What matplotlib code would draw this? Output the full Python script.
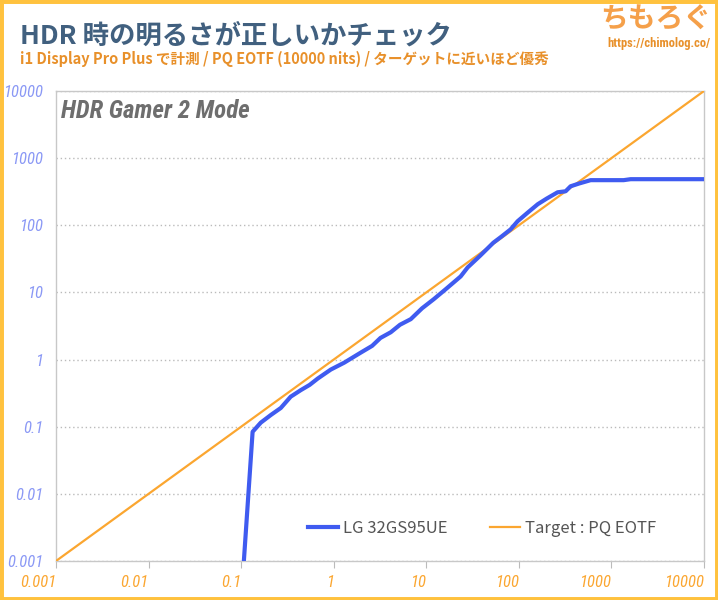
import matplotlib
matplotlib.use("Agg")
import matplotlib.pyplot as plt
from matplotlib import font_manager
from matplotlib.patches import Rectangle

plt.rcParams['font.family'] = ['Noto Sans CJK JP', 'DejaVu Sans']

# measured luminance (nits) against the PQ target
target_nits = [0.107, 0.133, 0.163, 0.21, 0.268, 0.343, 0.44, 0.55, 0.67, 0.93,
               1.3, 1.96, 2.6, 3.2, 4.13, 5.2, 6.8, 9.0, 12, 16, 23.5, 28, 38,
               53, 65, 81.5, 97, 125, 160, 200, 262, 320, 362, 450, 596, 1355,
               1612, 10000]
measured_nits = [0.001, 0.084, 0.115, 0.15, 0.19, 0.28, 0.35, 0.42, 0.52, 0.71,
                 0.9, 1.27, 1.6, 2.1, 2.55, 3.3, 4.0, 5.8, 7.9, 11, 17.3, 23.6, 35,
                 55, 68, 87, 115, 155, 206, 250, 310, 321, 381, 420, 470, 470,
                 486, 486]
pq_x = [0.001, 10000]
pq_y = [0.001, 10000]

decades = [0.001, 0.01, 0.1, 1, 10, 100, 1000, 10000]
decade_labels = ['0.001', '0.01', '0.1', '1', '10', '100', '1000', '10000']

blue = '#3F5BF0'
orange = '#FBA630'

installed = {f.name for f in font_manager.fontManager.ttflist}
narrow = [n for n in ['Roboto Condensed', 'Liberation Sans Narrow', 'Roboto']
          if n in installed][:1] + ['DejaVu Sans']

fig = plt.figure(figsize=(7.18, 6), dpi=100)
ax = fig.add_axes([56 / 718, 39 / 600, 648 / 718, 470 / 600])

ax.plot(pq_x, pq_y, color=orange, lw=1.6, label='Target : PQ EOTF', zorder=3)
ax.plot(target_nits, measured_nits, color=blue, lw=3, label='LG 32GS95UE', zorder=4)

ax.set_xscale('log')
ax.set_yscale('log')
ax.set_xlim(0.001, 10000)
ax.set_ylim(0.001, 10000)
ax.minorticks_off()

ax.set_xticks(decades)
ax.set_xticklabels(decade_labels, ha='right')
ax.set_yticks(decades)
ax.set_yticklabels(decade_labels)

for lab in ax.get_xticklabels():
    lab.set_color('#FBA630')
    lab.set_fontstyle('italic')
    lab.set_fontsize(12)
    lab.set_family(narrow)
for lab in ax.get_yticklabels():
    lab.set_color('#8A98F5')
    lab.set_fontstyle('italic')
    lab.set_fontsize(12)
    lab.set_family(narrow)

ax.tick_params(axis='x', direction='out', length=5, color='#BBBBBB', pad=5)
ax.tick_params(axis='y', length=0, pad=9)
for sp in ax.spines.values():
    sp.set_color('#C8C8C8')
    sp.set_linewidth(1)

ax.yaxis.grid(True, linestyle=(0, (1, 2)), color='#BBBBBB', lw=1)
ax.set_axisbelow(True)

ax.text(0.007, 0.982, 'HDR Gamer 2 Mode', transform=ax.transAxes,
        ha='left', va='top', fontsize=18, color='#6E6E6E',
        fontweight='bold', fontstyle='italic', family=narrow)

handles, labels = ax.get_legend_handles_labels()
ax.legend(handles[::-1], labels[::-1], loc='lower left', bbox_to_anchor=(0.365, 0.02),
          ncol=2, frameon=False, fontsize=12, handlelength=1.8, handletextpad=0.35,
          columnspacing=2.5, labelcolor='#555555')

fig.text(20 / 718, 1 - 36 / 600, 'HDR 時の明るさが正しいかチェック', fontsize=19,
         fontweight='bold', color='#41607F', ha='left', va='center')
fig.text(20 / 718, 1 - 59 / 600,
         'i1 Display Pro Plus で計測 / PQ EOTF (10000 nits) / ターゲットに近いほど優秀',
         fontsize=10.5, fontweight='bold', color='#E8902A', ha='left', va='center')
fig.text(711 / 718, 1 - 19 / 600, 'ちもろぐ', fontsize=20, fontweight='bold',
         color='#F5A04A', ha='right', va='center')
fig.text(711 / 718, 1 - 44 / 600, 'https://chimolog.co/', fontsize=9,
         fontweight='bold', color='#E8902A', ha='right', va='center', family=narrow)

fig.patches.append(Rectangle((0, 0), 1, 1, transform=fig.transFigure,
                             fill=False, edgecolor='#FFC23E', lw=5))

fig.savefig('out.png', dpi=100)
